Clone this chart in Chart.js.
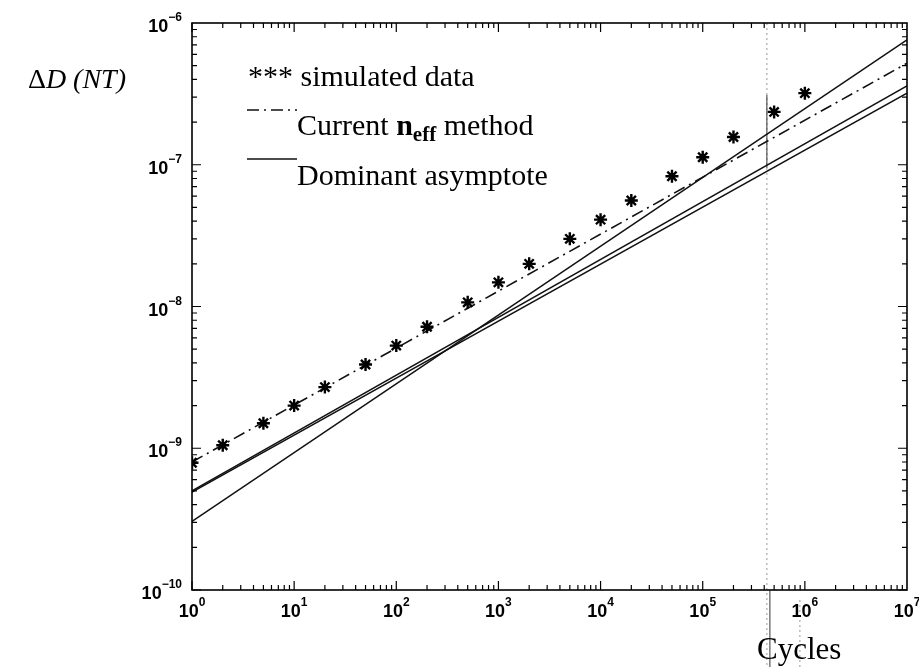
<!DOCTYPE html>
<html>
<head>
<meta charset="utf-8">
<script src="https://cdn.jsdelivr.net/npm/chart.js@4"></script>
<style>
  html, body { margin: 0; padding: 0; background: #fff; }
  #wrap { width: 919px; height: 667px; position: relative; }
</style>
</head>
<body>
<div id="wrap"><canvas id="chart" width="919" height="667"></canvas></div>
<script>
// simulated data (stars)
const cycles = [1, 2, 5, 10, 20, 50, 100, 200, 500, 1e3, 2e3, 5e3, 1e4, 2e4, 5e4, 1e5, 2e5, 5e5, 1e6];
const simulated = [7.9e-10, 1.05e-9, 1.5e-9, 2.0e-9, 2.7e-9, 3.9e-9, 5.3e-9, 7.2e-9, 1.07e-8, 1.48e-8,
                   2.0e-8, 3.0e-8, 4.1e-8, 5.6e-8, 8.3e-8, 1.13e-7, 1.57e-7, 2.36e-7, 3.2e-7];

// straight lines on log-log axes: values at both ends
const lineCycles = [1, 1e7];
const neffMethod = [8.0e-10, 5.2e-7];
const asymptoteA = [3.05e-10, 7.6e-7];
const asymptoteB = [5.0e-10, 3.6e-7];
const asymptoteC = [4.9e-10, 3.2e-7];

const xTicks = [1, 10, 100, 1e3, 1e4, 1e5, 1e6, 1e7];
const xExp = ['0', '1', '2', '3', '4', '5', '6', '7'];
const yTicks = [1e-10, 1e-9, 1e-8, 1e-7, 1e-6];
const yExp = ['\u221210', '\u22129', '\u22128', '\u22127', '\u22126'];

// faint vertical line in the scan
const scanLineX = 4.25e5;

const dashDot = [12, 5, 2, 5];
const pts = (xs, ys) => xs.map((x, i) => ({ x: x, y: ys[i] }));

function solid(ys) {
    return {
        data: pts(lineCycles, ys),
        borderColor: '#111',
        borderWidth: 1.6,
        pointRadius: 0,
        showLine: true,
        fill: false
    };
}

// axes, ticks, labels and legend drawn by hand, Matlab style
const frame = {
    id: 'frame',
    beforeDatasetsDraw(chart) {
        const ctx = chart.ctx;
        const x = chart.scales.x;
        const px = x.getPixelForValue(scanLineX);
        ctx.save();
        ctx.strokeStyle = '#999';
        ctx.lineWidth = 1;
        ctx.setLineDash([2, 3]);
        ctx.beginPath();
        ctx.moveTo(px, chart.chartArea.top);
        ctx.lineTo(px, 667);
        ctx.moveTo(px + 33, chart.chartArea.bottom + 10);
        ctx.lineTo(px + 33, 667);
        ctx.stroke();
        ctx.setLineDash([]);
        ctx.strokeStyle = '#333';
        ctx.beginPath();
        ctx.moveTo(px, 95); ctx.lineTo(px, 168);
        ctx.moveTo(px + 3, chart.chartArea.bottom); ctx.lineTo(px + 3, 667);
        ctx.stroke();
        ctx.restore();
    },
    afterDraw(chart) {
        const ctx = chart.ctx;
        const a = chart.chartArea;
        const x = chart.scales.x, y = chart.scales.y;
        ctx.save();
        ctx.strokeStyle = '#000';
        ctx.lineWidth = 1.6;
        ctx.strokeRect(a.left, a.top, a.right - a.left, a.bottom - a.top);

        ctx.lineWidth = 1.2;
        ctx.beginPath();
        // x ticks (bottom and top)
        for (let k = 0; k < 7; k++) {
            for (let m = 1; m <= 9; m++) {
                const v = Math.pow(10, k) * m;
                const p = x.getPixelForValue(v);
                const len = m === 1 ? 9 : 5;
                ctx.moveTo(p, a.bottom); ctx.lineTo(p, a.bottom - len);
                ctx.moveTo(p, a.top); ctx.lineTo(p, a.top + len);
            }
        }
        // y ticks (left and right)
        for (let k = -10; k < -6; k++) {
            for (let m = 1; m <= 9; m++) {
                const v = Math.pow(10, k) * m;
                const p = y.getPixelForValue(v);
                const len = m === 1 ? 9 : 5;
                ctx.moveTo(a.left, p); ctx.lineTo(a.left + len, p);
                ctx.moveTo(a.right, p); ctx.lineTo(a.right - len, p);
            }
        }
        ctx.stroke();

        // tick labels 10^n
        const base = 'bold 18px "Liberation Sans", Arial, sans-serif';
        const sup = 'bold 12px "Liberation Sans", Arial, sans-serif';
        ctx.fillStyle = '#000';
        ctx.textBaseline = 'alphabetic';
        ctx.textAlign = 'left';
        xTicks.forEach((v, i) => {
            const p = x.getPixelForValue(v);
            ctx.font = base;
            const w1 = ctx.measureText('10').width;
            ctx.font = sup;
            const w2 = ctx.measureText(xExp[i]).width;
            const x0 = p - (w1 + w2) / 2;
            ctx.font = base;
            ctx.fillText('10', x0, a.bottom + 27);
            ctx.font = sup;
            ctx.fillText(xExp[i], x0 + w1, a.bottom + 16);
        });
        yTicks.forEach((v, i) => {
            const p = y.getPixelForValue(v);
            ctx.font = sup;
            const w2 = ctx.measureText(yExp[i]).width;
            ctx.font = base;
            const w1 = ctx.measureText('10').width;
            const x1 = a.left - 10;
            ctx.fillText('10', x1 - w2 - w1, p + 9);
            ctx.font = sup;
            ctx.fillText(yExp[i], x1 - w2, p - 2);
        });

        // axis titles
        ctx.font = '28px "Liberation Serif", "Times New Roman", serif';
        const wd = ctx.measureText('\u0394').width;
        ctx.font = 'italic 28px "Liberation Serif", "Times New Roman", serif';
        const wr = ctx.measureText('D (NT)').width;
        const tx = 126 - wd - wr;
        ctx.font = '28px "Liberation Serif", "Times New Roman", serif';
        ctx.fillText('\u0394', tx, 88);
        ctx.font = 'italic 28px "Liberation Serif", "Times New Roman", serif';
        ctx.fillText('D (NT)', tx + wd, 88);

        ctx.font = '31px "Liberation Serif", "Times New Roman", serif';
        ctx.fillText('Cycles', 757, 659);

        // legend
        const lf = '30px "Liberation Serif", "Times New Roman", serif';
        ctx.font = lf;
        ctx.fillText('*** simulated data', 248, 86);

        ctx.lineWidth = 1.6;
        ctx.strokeStyle = '#111';
        ctx.setLineDash(dashDot);
        ctx.beginPath(); ctx.moveTo(247, 110); ctx.lineTo(297, 110); ctx.stroke();
        ctx.setLineDash([]);
        ctx.beginPath(); ctx.moveTo(247, 159); ctx.lineTo(297, 159); ctx.stroke();

        let cx = 297;
        ctx.font = lf;
        ctx.fillText('Current ', cx, 135);
        cx += ctx.measureText('Current ').width;
        ctx.font = 'bold 30px "Liberation Serif", "Times New Roman", serif';
        ctx.fillText('n', cx, 135);
        cx += ctx.measureText('n').width;
        ctx.font = 'bold 21px "Liberation Serif", "Times New Roman", serif';
        ctx.fillText('eff', cx, 141);
        cx += ctx.measureText('eff').width;
        ctx.font = lf;
        ctx.fillText(' method', cx, 135);

        ctx.fillText('Dominant asymptote', 297, 185);
        ctx.restore();
    }
};

new Chart(document.getElementById('chart'), {
    type: 'scatter',
    data: {
        datasets: [
            {
                label: 'simulated data',
                data: pts(cycles, simulated),
                pointStyle: 'star',
                pointRadius: 6.5,
                borderColor: '#000',
                backgroundColor: '#000',
                pointBorderWidth: 2.4,
                showLine: false
            },
            {
                label: 'Current n_eff method',
                data: pts(lineCycles, neffMethod),
                borderColor: '#111',
                borderWidth: 1.6,
                borderDash: dashDot,
                pointRadius: 0,
                showLine: true,
                fill: false
            },
            Object.assign({ label: 'Dominant asymptote' }, solid(asymptoteA)),
            Object.assign({ label: 'asymptote 2' }, solid(asymptoteB)),
            Object.assign({ label: 'asymptote 3' }, solid(asymptoteC))
        ]
    },
    options: {
        responsive: false,
        animation: false,
        layout: { padding: { left: 192, right: 12, top: 23, bottom: 77 } },
        plugins: {
            legend: { display: false },
            tooltip: { enabled: false }
        },
        scales: {
            x: { type: 'logarithmic', min: 1, max: 1e7, display: false },
            y: { type: 'logarithmic', min: 1e-10, max: 1e-6, display: false }
        }
    },
    plugins: [frame]
});
</script>
</body>
</html>
